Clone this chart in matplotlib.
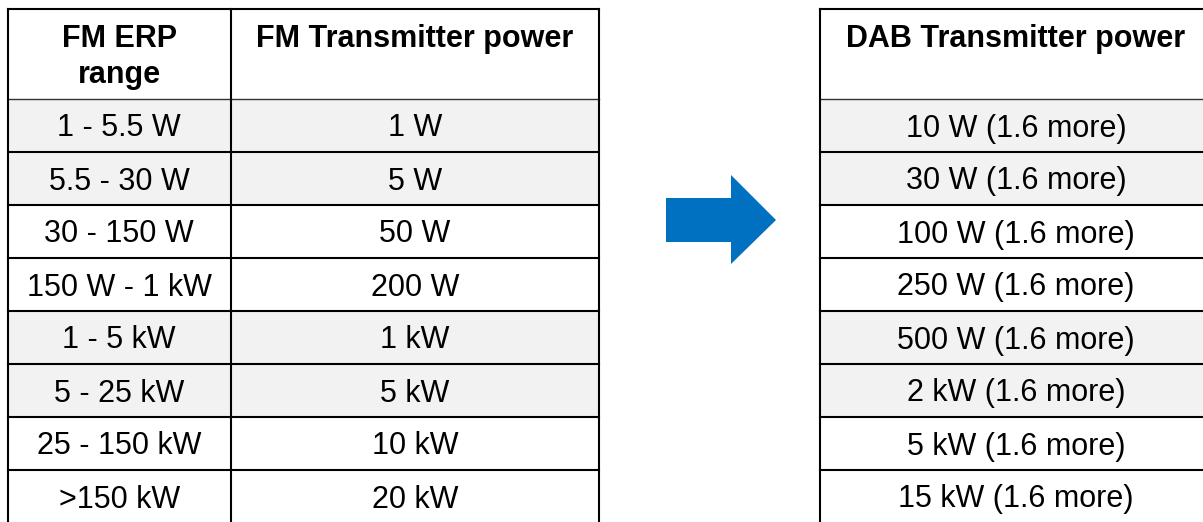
import matplotlib
matplotlib.use('Agg')
import matplotlib.pyplot as plt
from matplotlib.patches import Rectangle, Polygon

# table content
erp_ranges = ['1 - 5.5 W', '5.5 - 30 W', '30 - 150 W', '150 W - 1 kW',
              '1 - 5 kW', '5 - 25 kW', '25 - 150 kW', '>150 kW']
fm_power = ['1 W', '5 W', '50 W', '200 W', '1 kW', '5 kW', '10 kW', '20 kW']
dab_power = ['10 W (1.6 more)', '30 W (1.6 more)', '100 W (1.6 more)',
             '250 W (1.6 more)', '500 W (1.6 more)', '2 kW (1.6 more)',
             '5 kW (1.6 more)', '15 kW (1.6 more)']
left_headers = [['FM ERP', 'range'], ['FM Transmitter power']]
right_headers = [['DAB Transmitter power']]
shaded = [True, True, False, False, True, True, False, False]

plt.rcParams['font.family'] = ['Liberation Sans', 'DejaVu Sans']

W, H = 1203, 522
fig = plt.figure(figsize=(W / 100, H / 100), dpi=100)
ax = fig.add_axes([0, 0, 1, 1])
ax.set_xlim(0, W)
ax.set_ylim(H, 0)
ax.axis('off')

top = 9
head_bot = 99
row_h = 53
fs = 22
gray = '#f2f2f2'
lw = 1.5
cap = 11  # half cap height in px


def draw_table(col_edges, headers, columns):
    x0, x1 = col_edges[0], col_edges[-1]
    n = len(columns[0])
    for i in range(n):
        y = head_bot + i * row_h
        if shaded[i]:
            ax.add_patch(Rectangle((x0, y), x1 - x0, row_h, facecolor=gray,
                                   edgecolor='none', zorder=1))
        for j, col in enumerate(columns):
            cx = (col_edges[j] + col_edges[j + 1]) / 2
            ax.text(cx, y + row_h / 2 + cap, col[i], ha='center', va='baseline',
                    fontsize=fs, color='black', zorder=3)
        if i > 0:
            ax.plot([x0, x1], [y, y], color='black', lw=lw, zorder=2)
    ax.plot([x0, x1], [head_bot, head_bot], color='#333333', lw=1.0, zorder=2)
    bottom = head_bot + n * row_h
    ax.plot([x0, x1], [top, top], color='black', lw=lw, zorder=2,
            solid_capstyle='projecting')
    for xe in col_edges:
        ax.plot([xe, xe], [top, bottom], color='black', lw=lw, zorder=2,
                solid_capstyle='projecting')
    for j, lines in enumerate(headers):
        cx = (col_edges[j] + col_edges[j + 1]) / 2
        for k, line in enumerate(lines):
            ax.text(cx, 47 + k * 36, line, ha='center', va='baseline',
                    fontsize=fs, fontweight='bold', color='black', zorder=3)


draw_table([7.5, 231, 599], left_headers, [erp_ranges, fm_power])
draw_table([820, 1212], right_headers, [dab_power])

# arrow
arrow = Polygon([(666, 198), (731, 198), (731, 175), (776, 220),
                 (731, 264), (731, 242), (666, 242)], closed=True,
                facecolor='#0070C0', edgecolor='none', zorder=3)
ax.add_patch(arrow)

fig.savefig('out.png', dpi=100, facecolor='white')
